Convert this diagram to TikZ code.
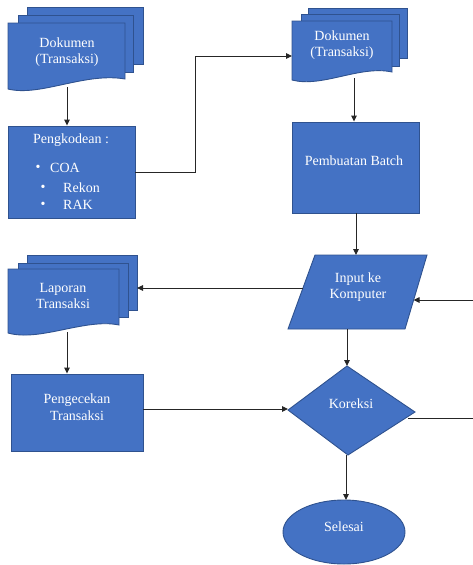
\documentclass[tikz,border=0pt]{standalone}
\usepackage{fontspec}
\setmainfont{Liberation Serif}
\usetikzlibrary{arrows.meta}
\definecolor{fillblue}{HTML}{4472C4}
\definecolor{edgeblue}{HTML}{2F528F}
\tikzset{
  shapefill/.style={fill=fillblue, draw=edgeblue, line width=0.9pt},
  lbl/.style={text=white, font=\fontsize{14}{16.5}\selectfont, align=center, inner sep=0pt},
  conn/.style={draw=black!85, line width=0.9pt},
  arr/.style={conn, -{Triangle[length=6pt,width=5.5pt]}},
}
\begin{document}
\begin{tikzpicture}[x=1pt,y=-1pt]
\useasboundingbox (0,0) rectangle (473,565);

% Document stack 1
\draw[shapefill] (27,7) rectangle (143,64);
\draw[shapefill] (18,15) rectangle (133,72);
\draw[shapefill] (8,23) -- (125,23) -- (125,79) .. controls (85,72) and (40,97) .. (8,89) -- cycle;
\node[lbl] (doc1) at (67,52) {Dokumen\\(Transaksi)};
\coordinate (doc1b) at (67,87);

% Pengkodean box
\node[shapefill, minimum width=127pt, minimum height=92pt, inner sep=0pt] (box1) at (71.5,172) {};
\node[lbl] (kod) at (71,140) {Pengkodean :};
\node[lbl] (b1) at (38,168) {\textbullet};
\node[lbl, anchor=west] (coa) at (50,168) {COA};
\node[lbl] (b2) at (43,188) {\textbullet};
\node[lbl, anchor=west] (rekon) at (63,188) {Rekon};
\node[lbl] (b3) at (43,205) {\textbullet};
\node[lbl, anchor=west] (rak) at (63,205) {RAK};

% Document stack 2
\draw[shapefill] (308,8) rectangle (407,58);
\draw[shapefill] (301,14) rectangle (399,66);
\draw[shapefill] (292,21) -- (392,21) -- (392,72) .. controls (360,65) and (322,88) .. (292,80) -- cycle;
\node[lbl] (doc2) at (342,45) {Dokumen\\(Transaksi)};
\coordinate (doc2w) at (292,56);
\coordinate (doc2b) at (354,78);

% Pembuatan Batch
\node[shapefill, minimum width=127pt, minimum height=91pt, inner sep=0pt] (box2) at (355.5,167.5) {};
\node[lbl] (batch) at (354,161) {Pembuatan Batch};

% Input ke Komputer (parallelogram)
\draw[shapefill] (315,255) -- (427,255) -- (405,329) -- (288,329) -- cycle;
\node[lbl] (para) at (358,287) {Input ke\\Komputer};
\coordinate (parat) at (356,255);
\coordinate (parab) at (347,329);
\coordinate (parar) at (413.5,300);
\coordinate (paral) at (303,288);
\coordinate (inR) at (473,300);

% Document stack 3
\draw[shapefill] (27,255) rectangle (137,310);
\draw[shapefill] (18,263) rectangle (128,317);
\draw[shapefill] (8,269) -- (119,269) -- (119,325) .. controls (85,318) and (40,342) .. (8,333) -- cycle;
\node[lbl] (doc3) at (63,296) {Laporan\\Transaksi};
\coordinate (doc3e) at (137,288);
\coordinate (doc3b) at (67,332);

% Pengecekan
\node[shapefill, minimum width=132pt, minimum height=77pt, inner sep=0pt] (box3) at (77,412.5) {};
\node[lbl] (cek) at (77,407) {Pengecekan\\Transaksi};

% Koreksi diamond
\draw[shapefill] (288,410) -- (347,366) -- (415,412) -- (348,455) -- cycle;
\node[lbl] (kor) at (351,404) {Koreksi};
\coordinate (diaw) at (288,409);
\coordinate (diat) at (347,366);
\coordinate (diab) at (346,455);
\coordinate (diar) at (408,418);
\coordinate (outR) at (473,418);

% Selesai
\draw[shapefill] (344,532) ellipse [x radius=61, y radius=32];
\node[lbl] (end) at (344,527) {Selesai};
\coordinate (endt) at (346,500);

% Connectors
\draw[arr] (doc1b) -- (box1.north -| doc1b);
\draw[arr] (box1.east) -- (195,172) |- (doc2w);
\draw[arr] (doc2b) -- (box2.north -| doc2b);
\draw[arr] (box2.south -| parat) -- (parat);
\draw[arr] (inR) -- (parar);
\draw[arr] (paral) -- (doc3e);
\draw[arr] (doc3b) -- (box3.north -| doc3b);
\draw[arr] (box3.east |- diaw) -- (diaw);
\draw[arr] (parab) -- (diat);
\draw[conn] (diar) -- (outR);
\draw[arr] (diab) -- (endt);
\end{tikzpicture}
\end{document}
